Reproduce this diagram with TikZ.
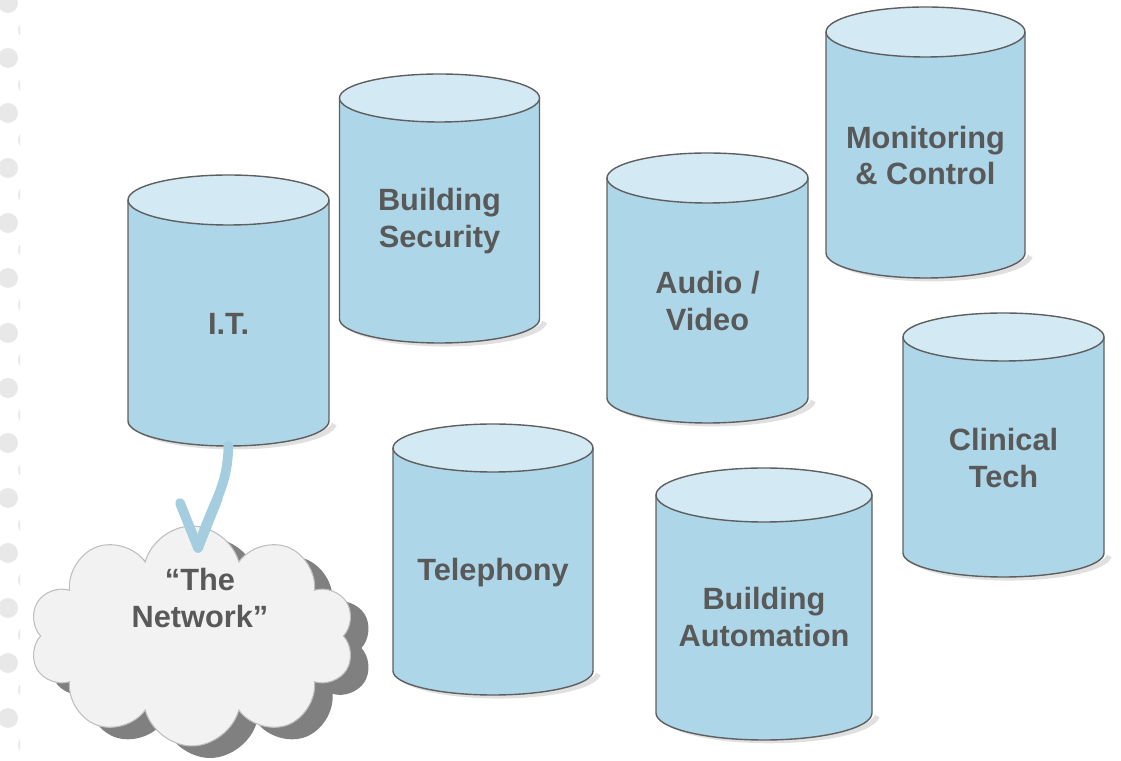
\documentclass[tikz,border=0pt]{standalone}
\usepackage{fontspec}
\setmainfont{Liberation Sans}
\usetikzlibrary{shapes.symbols,shadows,calc}
\definecolor{silobody}{RGB}{173,214,232}
\definecolor{silotop}{RGB}{211,234,244}
\definecolor{siloline}{RGB}{95,95,95}
\definecolor{labelgray}{RGB}{89,89,89}
\definecolor{flowblue}{RGB}{164,206,224}
\definecolor{cloudfill}{RGB}{242,242,242}
\definecolor{cloudline}{RGB}{190,190,190}
\definecolor{cloudshade}{RGB}{128,128,128}
\definecolor{bgdot}{RGB}{232,232,232}
% name, cx, half width, top, bottom, ry, text
\newcommand{\silo}[7]{%
\draw[black!30,line width=3pt,opacity=.4]({#2-#3+6},{#5-3}) arc[start angle=185,end angle=355,x radius=#3,y radius=#6];
\fill[silobody]({#2-#3},#4)--({#2-#3},#5) arc[start angle=180,end angle=360,x radius=#3,y radius=#6]--({#2+#3},#4)--cycle;
\draw[siloline,line width=.8pt]({#2-#3},#4)--({#2-#3},#5) arc[start angle=180,end angle=360,x radius=#3,y radius=#6]--({#2+#3},#4);
\draw[siloline,fill=silotop,line width=.8pt](#2,#4) ellipse[x radius=#3,y radius=#6];
\node[silotext](#1) at (#2,{(#4+#5)/2-13}){#7};
\coordinate(#1-b) at (#2,{#5-#6});
}
\begin{document}
\begin{tikzpicture}[x=.02cm,y=.02cm,
  silotext/.style={font=\bfseries\fontsize{17.5}{21}\selectfont,text=labelgray,align=center},
  flow/.style={draw=flowblue,line width=5.5pt,line cap=round,line join=round}]
\useasboundingbox (0,0) rectangle (1121,760);
\begin{scope}
\clip (0,0) rectangle (20,760);
\foreach \k in {0,...,14}{
\fill[bgdot](8,{757-55*\k}) circle[radius=10];
\fill[bgdot](28,{730-55*\k}) circle[radius=10];}
\end{scope}

\silo{it}{228.5}{100.5}{560}{339}{25}{I.T.}
\silo{sec}{439.5}{100}{662}{441}{24}{Building\\Security}
\silo{av}{707.5}{100.5}{582}{362}{25}{Audio /\\Video}
\silo{mc}{925.5}{99.5}{728}{507}{25}{Monitoring\\\& Control}
\silo{ct}{1003.5}{100.5}{423}{207}{24}{Clinical\\Tech}
\silo{tel}{493}{100}{312}{89}{24}{Telephony}
\silo{ba}{764}{108}{265}{47}{27}{Building\\Automation}

\node[cloud,cloud puffs=10,aspect=1.5,fill=cloudfill,draw=cloudline,line width=.6pt,
  minimum width=6.5cm,minimum height=4.4cm,
  drop shadow={shadow xshift=.36cm,shadow yshift=-.24cm,fill=cloudshade,opacity=1}](net) at (192,124){};
\node[silotext](nettext) at (200,162){“The\\Network”};

\coordinate(tip) at (198,212);
\draw[flow](it-b) .. controls (227,270) and (214,262) .. (tip);
\draw[flow]($(tip)+(-18,45)$)--(tip)--($(tip)+(20,50)$);
\end{tikzpicture}
\end{document}
